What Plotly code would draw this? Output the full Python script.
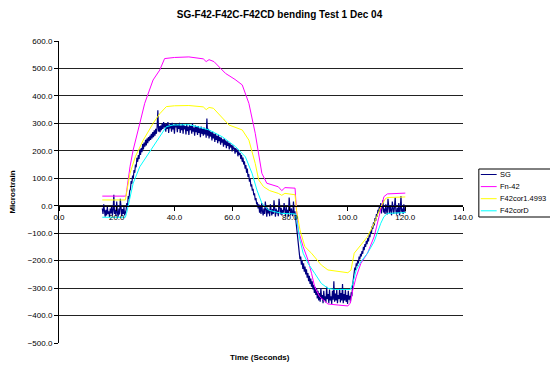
import plotly.graph_objects as go

# SG strain gauge, sampled every 0.25 s from 15.0 s (one row = 2 s)
sg_start = 15.0
sg_step = 0.25
sg_vals = [
    -10, -30, 5, -25, -40, -15, -35, -5,
    -30, -20, -42, -10, -28, 0, -35, -18,
    40, -30, -15, -38, 15, -25, -40, -10,
    -32, 25, -20, -38, -12, -30, -5, -35,
    -25, -15, 10, 0, 35, 25, 55, 60,
    90, 80, 110, 100, 130, 120, 150, 140,
    175, 160, 185, 170, 205, 185, 210, 195,
    225, 205, 230, 215, 240, 220, 245, 228,
    250, 235, 255, 240, 262, 245, 268, 250,
    275, 255, 280, 262, 285, 348, 270, 290,
    268, 292, 275, 300, 280, 305, 285, 300,
    270, 298, 280, 305, 265, 295, 282, 300,
    270, 302, 278, 295, 262, 300, 285, 298,
    268, 296, 280, 302, 265, 292, 275, 300,
    262, 295, 278, 290, 260, 298, 272, 288,
    258, 294, 275, 290, 262, 300, 270, 285,
    255, 292, 268, 288, 258, 290, 265, 282,
    250, 288, 262, 280, 255, 285, 260, 278,
    248, 318, 255, 280, 245, 275, 252, 268,
    238, 270, 245, 262, 232, 265, 240, 255,
    228, 258, 235, 250, 222, 248, 230, 242,
    215, 245, 222, 238, 210, 235, 218, 230,
    205, 228, 212, 222, 198, 220, 205, 212,
    190, 210, 195, 205, 180, 198, 185, 192,
    170, 185, 160, 175, 150, 162, 135, 148,
    120, 135, 105, 115, 88, 98, 70, 78,
    55, 62, 38, 45, 20, 28, 5, 12,
    -10, 5, -25, -5, -30, 10, -20, -35,
    -10, -30, 15, -25, -40, -8, -28, -15,
    -38, 5, -22, -35, -12, -30, 20, -25,
    -40, -10, -28, -18, -38, 25, -20, -32,
    -8, -35, -15, -25, 10, -30, -38, -5,
    -28, -15, -40, 30, -20, -35, -10, -25,
    -38, 15, -30, -20, -45, -70, -110, -135,
    -160, -175, -195, -185, -215, -200, -230, -210,
    -240, -222, -250, -232, -262, -245, -275, -255,
    -285, -265, -295, -275, -305, -288, -318, -295,
    -325, -300, -338, -310, -345, -318, -350, -300,
    -340, -325, -355, -310, -345, -330, -352, -295,
    -340, -322, -355, -305, -345, -330, -358, -310,
    -342, -275, -350, -320, -345, -305, -355, -325,
    -340, -300, -352, -318, -345, -285, -355, -322,
    -345, -305, -350, -325, -358, -310, -342, -328,
    -352, -315, -330, -290, -260, -245, -225, -235,
    -210, -220, -200, -210, -185, -195, -175, -185,
    -165, -175, -150, -162, -140, -150, -128, -140,
    -118, -130, -105, -115, -90, -102, -75, -85,
    -60, -72, -45, -55, -30, -40, -15, -25,
    -5, -20, 10, -28, -5, 20, -25, -10,
    -30, 5, -18, -32, 25, -15, -28, 0,
    -22, -35, 15, -12, -30, -5, 30, -20,
    -32, -8, -25, 10, -35, -15, 35, -22,
    -10, -30, 5, -18, -25,
]
sg_time = [sg_start + sg_step * i for i in range(len(sg_vals))]

fn42_time = [15, 23.2, 24.6, 25.7, 28, 29.7, 32.6, 34.9, 36.6, 40, 45, 50, 51, 52, 53.7,
             57.7, 61, 63.5, 65.8, 68, 70.3, 72, 76, 77.2, 78.3, 81.8, 82.3, 82.9, 84.6,
             86.3, 87.5, 88.6, 90.3, 93.2, 97, 100.1, 100.9, 101.8, 103, 104.6, 106.9,
             109.2, 110.9, 112.6, 113.8, 120]
fn42_vals = [35, 35, 142, 203, 300, 373, 458, 494, 536, 540, 542, 535, 525, 532, 525,
             482, 460, 440, 373, 264, 118, 82, 69, 55, 66, 64, -16, -88, -149,
             -198, -246, -295, -331, -358, -362, -365, -355, -307, -259, -210, -173,
             -113, -40, 33, 43, 46]

cor_time = [15, 23, 24.6, 26.5, 29.2, 32.6, 34.9, 37.2, 40, 45, 50, 51, 52, 53.5, 58.9,
            63.5, 65.8, 68, 69.2, 70.9, 73, 76, 77.2, 78.3, 81.8, 82.3, 83.5, 85.2, 87.5,
            90.9, 93.2, 97, 100.1, 101.2, 102.3, 104.6, 106.9, 109.2, 111.5, 113.2, 114, 120]
cor_vals = [21, 21, 118, 180, 239, 300, 335, 361, 364, 365, 360, 350, 358, 355, 294,
            276, 239, 154, 94, 69, 55, 45, 38, 45, 40, -16, -88, -149, -173,
            -216, -234, -240, -244, -234, -173, -143, -113, -64, -4, 27, 30, 32]

cord_time = [15, 23, 23.4, 24.6, 25.7, 28, 30.3, 32.6, 34.9, 37.2, 39.5, 45, 48, 52, 56.6,
             61.2, 64.6, 66.9, 68.6, 70.3, 72.6, 77.2, 82, 82.3, 83.5, 84.6, 86.3, 88.6,
             90.9, 93.2, 95.5, 101, 101.8, 103, 104.6, 106.9, 109.2, 111.5, 112.6, 113.8, 120]
cord_vals = [-42, -42, -28, 33, 82, 142, 178, 215, 251, 288, 294, 295, 288, 276, 251,
             215, 178, 118, 57, 9, -16, -28, -30, -52, -125, -173, -210, -246,
             -283, -301, -305, -305, -283, -234, -204, -173, -131, -64, -40, -28, -25]

series = [
    ("SG", sg_time, sg_vals, "#000080", 1.2),
    ("Fn-42", fn42_time, fn42_vals, "#FF00FF", 1),
    ("F42cor1.4993", cor_time, cor_vals, "#FFFF00", 1),
    ("F42corD", cord_time, cord_vals, "#00FFFF", 1),
]

FONT = "Arial, Liberation Sans, sans-serif"
W, H = 550, 366
L, R, T, B = 55, 463, 41, 343  # plot area in pixels


def px_x(p):
    return (p - L) / (R - L)


def px_y(p):
    return (B - p) / (B - T)


fig = go.Figure()
for name, t, v, color, w in series:
    fig.add_trace(go.Scatter(x=t, y=v, mode="lines", name=name,
                             line=dict(color=color, width=w)))

# hand drawn legend (excel style, compact, runs off the right edge)
shapes = [dict(type="rect", xref="paper", yref="paper",
               x0=px_x(479), x1=px_x(553), y0=px_y(169), y1=px_y(217),
               line=dict(color="black", width=1), fillcolor="white")]
annotations = []
for i, (name, t, v, color, w) in enumerate(series):
    yy = 174.5 + i * 12.1
    shapes.append(dict(type="line", xref="paper", yref="paper",
                       x0=px_x(481), x1=px_x(497), y0=px_y(yy), y1=px_y(yy),
                       line=dict(color=color, width=1)))
    annotations.append(dict(text=name, xref="paper", yref="paper", x=px_x(498), y=px_y(yy),
                            xanchor="left", yanchor="middle", showarrow=False,
                            font=dict(size=7.5, family=FONT, color="black")))

annotations.append(dict(text="<b>Time (Seconds)</b>", xref="paper", yref="paper",
                        x=px_x(258), y=px_y(357), xanchor="center", yanchor="middle",
                        showarrow=False, font=dict(size=8, family=FONT, color="black")))

fig.update_layout(
    width=W, height=H,
    margin=dict(l=L, r=W - R, t=T, b=H - B),
    paper_bgcolor="white", plot_bgcolor="white",
    showlegend=False,
    title=dict(text="<b>SG-F42-F42C-F42CD bending Test 1 Dec 04</b>", x=279.5 / W,
               xanchor="center", y=1 - 14 / H, yanchor="middle",
               font=dict(size=10, family=FONT, color="black")),
    font=dict(family=FONT, size=8, color="black"),
    xaxis=dict(range=[0, 140], dtick=20, tickformat=".1f", anchor="free",
               position=500 / 1100, showline=True, linecolor="black", linewidth=1,
               ticks="outside", ticklen=4, tickcolor="black", showgrid=False,
               zeroline=False, tickfont=dict(size=8, family=FONT, color="black")),
    yaxis=dict(range=[-500, 600], dtick=100, tickformat=".1f", showline=True,
               linecolor="black", linewidth=1, ticks="outside", ticklen=4,
               tickcolor="black", showgrid=True, gridcolor="#222", gridwidth=1,
               zeroline=False, tickfont=dict(size=8, family=FONT, color="black"),
               title=dict(text="<b>Microstrain</b>", standoff=10,
                          font=dict(size=8, family=FONT, color="black"))),
    shapes=shapes,
    annotations=annotations,
)

fig.write_html("out.html", config={"displayModeBar": False},
               post_script="document.body.style.margin = '0';")
